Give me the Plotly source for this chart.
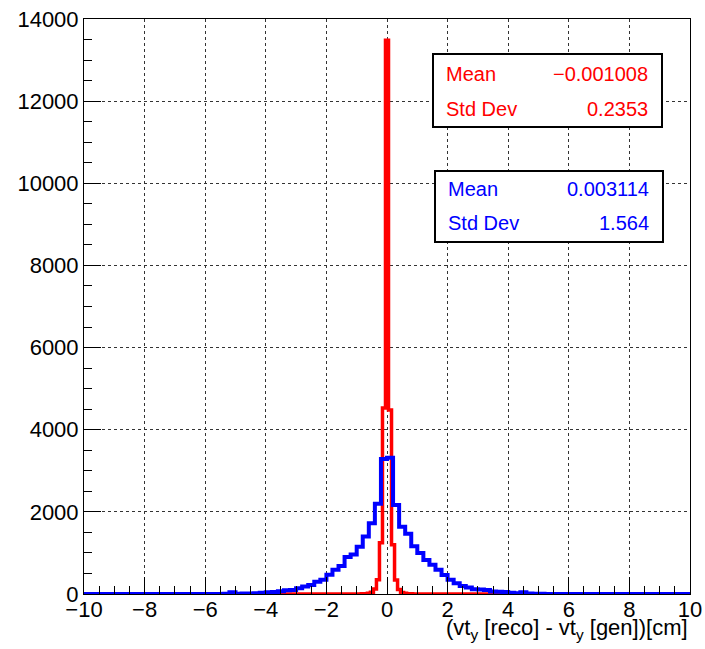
import numpy as np
import plotly.graph_objects as go

# ---- binning ------------------------------------------------------------
X_MIN, X_MAX = -10.0, 10.0
BLUE_NBINS = 100          # 0.2 cm bins
RED_NBINS = 201           # odd number of bins -> one bin centred on zero

# ---- bin contents -------------------------------------------------------
# blue histogram, all 100 bins from -10 to 10
blue_counts = [
    0, 0, 0, 0, 0, 0, 0, 0, 0, 0,
    0, 0, 0, 0, 0, 0, 0, 1, 0, 1,
    2, 3, 2, 4, 40, 8, 10, 14, 20, 28,
    40, 50, 70, 90, 100, 140, 180, 220, 300, 350,
    470, 590, 680, 900, 960, 1150, 1400, 1720, 2200, 3290,
    3320, 2170, 1640, 1470, 1160, 1000, 830, 710, 590, 460,
    350, 260, 195, 160, 115, 110, 100, 60, 55, 50,
    30, 20, 40, 10, 6, 4, 2, 1, 2, 0,
    1, 0, 0, 0, 0, 0, 0, 0, 0, 0,
    0, 0, 0, 0, 0, 0, 0, 0, 0, 0,
]

# red histogram: central 17 bins (offsets -8 .. +8 from the zero bin); others empty
red_core_offsets = list(range(-8, 9))
red_core_counts = [5, 9, 16, 40, 120, 350, 1250, 4530, 13480,
                   4480, 1200, 340, 110, 35, 16, 9, 5]

# ---- statistics boxes text ---------------------------------------------
red_stats = [("Mean", "\u22120.001008"), ("Std Dev", "0.2353")]
blue_stats = [("Mean", "0.003114"), ("Std Dev", "1.564")]

x_tickvals = [-10, -8, -6, -4, -2, 0, 2, 4, 6, 8, 10]
y_tickvals = [0, 2000, 4000, 6000, 8000, 10000, 12000, 14000]

RED = "#ff0000"
BLUE = "#0000ff"
FONT = "Liberation Sans"


def step_xy(edges, counts):
    """Outline of a histogram as an 'hv' step polyline."""
    counts = list(counts)
    return list(edges), counts + [counts[-1]]


blue_edges = np.linspace(X_MIN, X_MAX, BLUE_NBINS + 1)
red_edges = np.linspace(X_MIN, X_MAX, RED_NBINS + 1)
red_counts = [0] * RED_NBINS
centre = RED_NBINS // 2
for off, c in zip(red_core_offsets, red_core_counts):
    red_counts[centre + off] = c

fig = go.Figure()

rx, ry = step_xy(red_edges, red_counts)
fig.add_trace(go.Scatter(x=rx, y=ry, mode="lines", line_shape="hv",
                         line=dict(color=RED, width=3.5), hoverinfo="skip"))
bx, by = step_xy(blue_edges, blue_counts)
fig.add_trace(go.Scatter(x=bx, y=by, mode="lines", line_shape="hv",
                         line=dict(color=BLUE, width=4), hoverinfo="skip"))

# ---- plot area geometry (pixels) ---------------------------------------
L, R, T, B = 84, 690, 19, 594
W, H = R - L, B - T


def px(x):
    return (x - L) / W


def py(y):
    return (B - y) / H


shapes = []
annotations = []


def stat_box(x0, y0, x1, y1, rows, color, text_left, text_right, row_ys):
    shapes.append(dict(type="rect", xref="paper", yref="paper",
                       x0=px(x0), x1=px(x1), y0=py(y1), y1=py(y0),
                       line=dict(color="black", width=2),
                       fillcolor="white", layer="above"))
    for (name, value), yy in zip(rows, row_ys):
        annotations.append(dict(xref="paper", yref="paper", x=px(text_left),
                                y=py(yy), xanchor="left", yanchor="middle",
                                text=name, showarrow=False,
                                font=dict(family=FONT, size=20, color=color)))
        annotations.append(dict(xref="paper", yref="paper", x=px(text_right),
                                y=py(yy), xanchor="right", yanchor="middle",
                                text=value, showarrow=False,
                                font=dict(family=FONT, size=20, color=color)))


stat_box(433, 54, 662, 127, red_stats, RED, 444, 650, [74, 109])
stat_box(435, 171, 663, 242, blue_stats, BLUE, 446, 651, [189, 223])

# x axis title, right-aligned to the end of the axis
annotations.append(dict(xref="paper", yref="paper", x=px(690), y=py(629),
                        xanchor="right", yanchor="middle", showarrow=False,
                        text="(vt<sub>y</sub> [reco] - vt<sub>y</sub> [gen])[cm]",
                        font=dict(family=FONT, size=22, color="black")))

axis_common = dict(
    showline=True, linecolor="black", linewidth=1, mirror=True,
    ticks="inside", tickcolor="black", tickwidth=1,
    showgrid=True, gridcolor="#333333", gridwidth=1, griddash="dot",
    zeroline=False, automargin=False,
    tickfont=dict(family=FONT, size=22, color="black"),
)

fig.update_xaxes(range=[X_MIN, X_MAX], tickvals=x_tickvals, ticklen=17,
                 ticklabelstandoff=-4,
                 minor=dict(dtick=0.5, tick0=0, ticks="inside", ticklen=8,
                            tickcolor="black", showgrid=False),
                 **axis_common)
fig.update_yaxes(range=[0, 14000], tickvals=y_tickvals, tickformat="d",
                 ticklen=17,
                 minor=dict(dtick=500, tick0=0, ticks="inside", ticklen=8,
                            tickcolor="black", showgrid=False),
                 **axis_common)

fig.update_layout(
    width=705, height=649,
    margin=dict(l=L, r=705 - R, t=T, b=649 - B, pad=0),
    paper_bgcolor="white", plot_bgcolor="white",
    showlegend=False,
    shapes=shapes, annotations=annotations,
    font=dict(family=FONT, color="black"),
)

fig.write_html("out.html")
